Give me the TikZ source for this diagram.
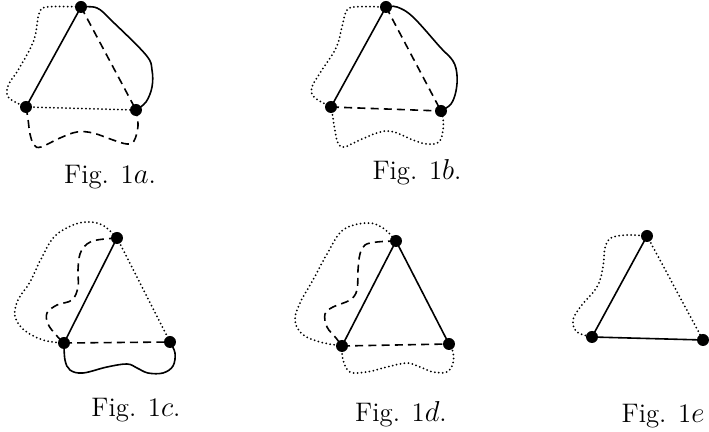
\documentclass[tikz,border=0pt]{standalone}
\usepackage{tikz}
\usetikzlibrary{calc}

\tikzset{
  vtx/.style={circle, fill=black, inner sep=0pt, minimum size=6pt},
  edg/.style={line width=0.8pt},
  dotline/.style={line width=1pt, line cap=round, dash pattern=on 0pt off 2pt},
  dashline/.style={line width=0.8pt, dash pattern=on 4pt off 2.6pt},
  figlabel/.style={anchor=base, font=\fontsize{13.4}{16}\selectfont}
}

\begin{document}
\begin{tikzpicture}[x=0.5pt, y=-0.5pt]
    \useasboundingbox (0,0) rectangle (709,432);
    % Fig. 1a
    \coordinate (a1) at (81,7);
    \coordinate (a2) at (26,107);
    \coordinate (a3) at (136,110);
    \draw[edg] (a1) -- (a2);
    \draw[dashline] (a1) -- (a3);
    \draw[dotline] (a2) -- (a3);
    \draw[dotline] plot[smooth, tension=0.6] coordinates {(a2) (9,98) (8,86) (20,67) (34,40) (39,14) (47,7) (81,7)};
    \draw[edg] plot[smooth, tension=0.6] coordinates {(a1) (97,8) (112,21) (146,55) (152,70) (152,87) (146,102) (a3)};
    \draw[dashline] plot[smooth, tension=0.6] coordinates {(a2) (28,119) (30,134) (34,145) (41,147) (60,138) (77,132) (93,133) (113,140) (127,144) (134,141) (138,126) (a3)};
    \node[figlabel] (labA) at (110,184) {Fig. 1$a$.};
    % Fig. 1b
    \coordinate (b1) at (386,7);
    \coordinate (b2) at (331,107);
    \coordinate (b3) at (441,111);
    \draw[edg] (b1) -- (b2);
    \draw[dashline] (b1) -- (b3);
    \draw[dashline] (b2) -- (b3);
    \draw[dotline] plot[smooth, tension=0.6] coordinates {(b2) (314,97) (312,87) (320,73) (336,48) (342,27) (346,12) (354,7) (386,7)};
    \draw[edg] plot[smooth, tension=0.6] coordinates {(b1) (397,7) (413,17) (440,47) (453,61) (457,75) (456,91) (451,104) (b3)};
    \draw[dotline] plot[smooth, tension=0.6] coordinates {(b2) (333,118) (335,131) (338,143) (344,147) (360,140) (380,132) (394,132) (413,140) (427,144) (439,142) (443,130) (443,118) (b3)};
    \node[figlabel] (labB) at (417,180) {Fig. 1$b$.};
    % Fig. 1c
    \coordinate (c1) at (117,238);
    \coordinate (c2) at (64,343);
    \coordinate (c3) at (170,342);
    \draw[edg] (c1) -- (c2);
    \draw[dotline] (c1) -- (c3);
    \draw[dashline] (c2) -- (c3);
    \draw[dotline] plot[smooth, tension=0.6] coordinates {(c2) (43,340) (24,330) (15,316) (18,300) (30,282) (41,259) (54,237) (73,225) (90,222) (104,226) (c1)};
    \draw[dashline] plot[smooth, tension=0.6] coordinates {(c1) (97,240) (87,244) (80,254) (78,270) (78,287) (72,300) (57,305) (47,313) (48,324) (56,335) (c2)};
    \draw[edg] plot[smooth, tension=0.6] coordinates {(c2) (65,360) (70,370) (83,373) (107,367) (127,364) (137,368) (148,373) (163,373) (173,366) (175,353) (c3)};
    \node[figlabel] (labC) at (136,417) {Fig. 1$c$.};
    % Fig. 1d
    \coordinate (d1) at (396,241);
    \coordinate (d2) at (342,346);
    \coordinate (d3) at (449,344);
    \draw[edg] (d1) -- (d2);
    \draw[edg] (d1) -- (d3);
    \draw[dashline] (d2) -- (d3);
    \draw[dotline] plot[smooth, tension=0.6] coordinates {(d2) (320,342) (302,334) (295,320) (300,303) (313,280) (327,254) (343,230) (367,223) (383,228) (d1)};
    \draw[dashline] plot[smooth, tension=0.6] coordinates {(d1) (377,242) (365,245) (360,254) (358,270) (357,290) (350,300) (333,307) (325,314) (327,327) (336,338) (d2)};
    \draw[dotline] plot[smooth, tension=0.6] coordinates {(d2) (343,360) (350,372) (367,372) (387,367) (407,363) (420,367) (433,372) (447,372) (453,363) (453,352) (d3)};
    \node[figlabel] (labD) at (401,422) {Fig. 1$d$.};
    % Fig. 1e
    \coordinate (e1) at (647,236);
    \coordinate (e2) at (592,337);
    \coordinate (e3) at (703,340);
    \draw[edg] (e1) -- (e2);
    \draw[dotline] (e1) -- (e3);
    \draw[edg] (e2) -- (e3);
    \draw[dotline] plot[smooth, tension=0.6] coordinates {(e1) (627,235) (611,238) (605,248) (603,267) (597,287) (581,306) (573,320) (577,332) (e2)};
    \node[figlabel] (labE) at (663,423) {Fig. 1$e$};
    % vertices
    \foreach \v in {a1,a2,a3,b1,b2,b3,c1,c2,c3,d1,d2,d3,e1,e2,e3}
      \node[vtx] (\v n) at (\v) {};
\end{tikzpicture}
\end{document}
